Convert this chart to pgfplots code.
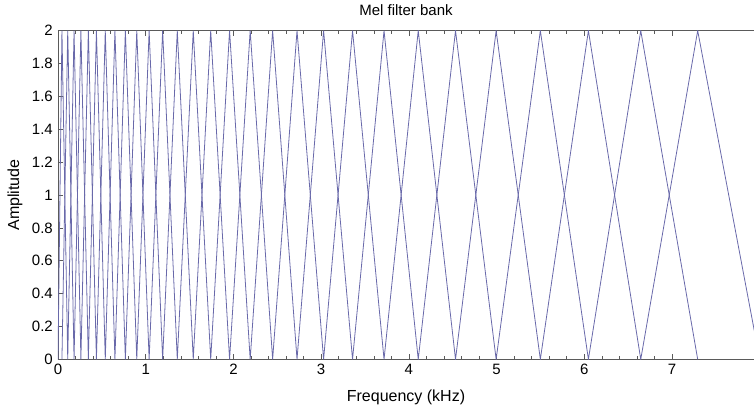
\documentclass[border=0pt]{standalone}
\usepackage{fontspec}
\setmainfont{Liberation Sans}
\usepackage{pgfplots}
\pgfplotsset{compat=1.18}
\usetikzlibrary{calc}
\definecolor{filt}{RGB}{105,105,170}
\definecolor{axgray}{RGB}{90,90,90}
\begin{document}
\fontsize{15}{18}\selectfont
\begin{tikzpicture}
\begin{axis}[
    scale only axis,
    width=696pt, height=328.6pt,
    xmin=0, xmax=7.935, ymin=0, ymax=2,
    axis y line*=left,
    axis x line=box,
    axis line style={axgray, line width=0.6pt},
    xtick={0,1,...,7},
    ytick={0,0.2,...,2},
    yticklabels={0,0.2,0.4,0.6,0.8,1,1.2,1.4,1.6,1.8,2},
    minor x tick num=4,
    tick align=inside,
    major tick length=5pt,
    minor tick length=3pt,
    every tick/.style={axgray, line width=0.5pt},
    /pgf/number format/assume math mode=true,
    tick label style={font=\fontsize{15}{18}\selectfont},
    title={Mel filter bank},
    title style={at={(axis description cs:0.5,1)}, anchor=center, yshift=15pt, font=\fontsize{15}{18}\selectfont},
    xlabel={Frequency (kHz)},
    xlabel style={at={(axis description cs:0.5,0)}, anchor=center, yshift=-38pt, font=\fontsize{16}{19}\selectfont},
    ylabel={Amplitude},
    ylabel style={at={(axis description cs:0,0.5)}, anchor=center, yshift=43pt, font=\fontsize{16}{19}\selectfont},
]
% odd filters (peaks at odd points)
\addplot[filt, line width=0.8pt] coordinates {
 (0,0) (0.045,2) (0.111,0) (0.183,2) (0.261,0) (0.346,2) (0.438,0) (0.539,2)
 (0.649,0) (0.768,2) (0.898,0) (1.039,2) (1.193,0) (1.360,2) (1.542,0) (1.741,2)
 (1.956,0) (2.191,2) (2.447,0) (2.725,2) (3.028,0) (3.358,2) (3.717,0) (4.107,2)
 (4.532,0) (4.995,2) (5.499,0) (6.047,2) (6.644,0) (7.293,2) (8.000,0)
};
% even filters
\addplot[filt, line width=0.8pt] coordinates {
 (0.045,0) (0.111,2) (0.183,0) (0.261,2) (0.346,0) (0.438,2) (0.539,0)
 (0.649,2) (0.768,0) (0.898,2) (1.039,0) (1.193,2) (1.360,0) (1.542,2) (1.741,0)
 (1.956,2) (2.191,0) (2.447,2) (2.725,0) (3.028,2) (3.358,0) (3.717,2) (4.107,0)
 (4.532,2) (4.995,0) (5.499,2) (6.047,0) (6.644,2) (7.293,0)
};
\end{axis}
\pgfresetboundingbox
\path ($(current axis.south west)+(-58pt,-52.7pt)$) rectangle ($(current axis.north east)+(0pt,30.7pt)$);
\end{tikzpicture}
\end{document}
